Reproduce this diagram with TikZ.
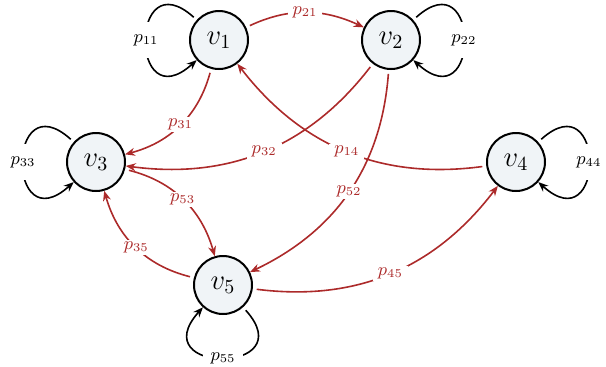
\documentclass[tikz,border=0pt]{standalone}
\usetikzlibrary{arrows.meta}
\definecolor{arcred}{RGB}{172,42,42}
\definecolor{statefill}{RGB}{240,244,247}

\begin{document}
\begin{tikzpicture}
[x=0.5pt,y=0.5pt,
state/.style={draw,circle,line width=1pt,fill=statefill,minimum size=29pt,inner sep=0pt,font=\Large},
arc/.style={arcred,thick,-{Stealth[length=5pt,width=4pt]},shorten <=2pt},
selfloop/.style={black,thick,-{Stealth[length=5pt,width=4pt]},shorten <=2pt,looseness=5.8},
prob/.style={fill=white,inner xsep=2.5pt,inner ysep=1pt,font=\small,text=arcred},
lprob/.style={fill=white,inner xsep=3pt,inner ysep=6pt,font=\small,text=black}]
\useasboundingbox (0,0) rectangle (606,-366);
\node[state](v1) at (219,-40){$v_1$};
\node[state](v2) at (391,-40){$v_2$};
\node[state](v3) at (96,-162){$v_3$};
\node[state](v4) at (516,-162){$v_4$};
\node[state](v5) at (223,-285){$v_5$};
% self loops
\path (v1) edge[selfloop,out=138,in=222] node[lprob]{$p_{11}$} (v1);
\path (v2) edge[selfloop,out=42,in=-42] node[lprob]{$p_{22}$} (v2);
\path (v3) edge[selfloop,out=138,in=222] node[lprob]{$p_{33}$} (v3);
\path (v4) edge[selfloop,out=42,in=-42] node[lprob]{$p_{44}$} (v4);
\path (v5) edge[selfloop,out=-48,in=-132] node[lprob,inner xsep=4pt,inner ysep=2pt]{$p_{55}$} (v5);
% transitions
\path (v1) edge[arc,bend left=25] node[prob]{$p_{21}$} (v2);
\path (v1) edge[arc,bend left=30] node[prob]{$p_{31}$} (v3);
\path (v2) edge[arc,bend left=30] node[prob]{$p_{32}$} (v3);
\path (v4) edge[arc,bend left=30] node[prob]{$p_{14}$} (v1);
\path (v2) edge[arc,bend left=30] node[prob]{$p_{52}$} (v5);
\path (v3) edge[arc,bend left=30] node[prob]{$p_{53}$} (v5);
\path (v5) edge[arc,bend left=30] node[prob]{$p_{35}$} (v3);
\path (v5) edge[arc,bend right=30] node[prob]{$p_{45}$} (v4);
\end{tikzpicture}
\end{document}
